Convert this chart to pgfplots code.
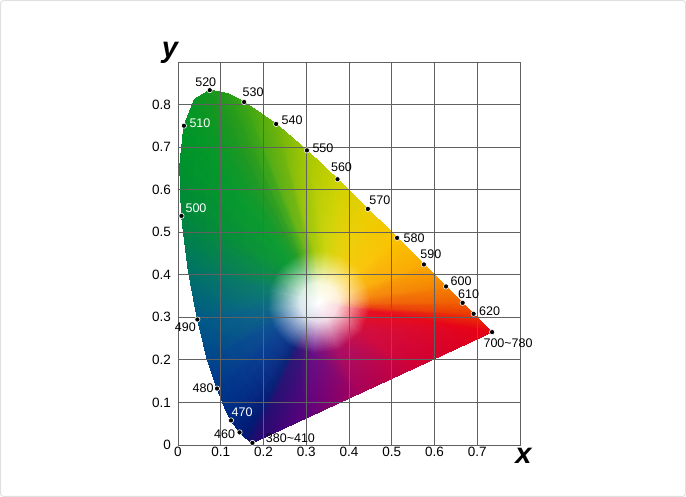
\documentclass[border=0pt]{standalone}
\usepackage{pgfplots}
\pgfplotsset{compat=1.18}
\usepackage{pgfplotstable}
\usepgfplotslibrary{patchplots}
\usepackage{fontspec}
\setmainfont{Liberation Sans}

\pgfplotstableread{
x y lab dx dy
0.0743 0.8338 520 -4 7.5
0.1547 0.8059 530 9 10
0.2296 0.7543 540 16 4
0.3016 0.6923 550 16 2
0.3731 0.6245 560 4 12
0.4441 0.5547 570 12 9
0.5125 0.4866 580 17 0
0.5752 0.4242 590 7 10
0.6270 0.3725 600 15 5
0.6658 0.3340 610 6 9
0.6915 0.3083 620 16 3
0.7347 0.2653 700\textasciitilde780 16 -11
0.0454 0.2950 490 -12 -8
0.0913 0.1327 480 -14 0
0.1440 0.0297 460 -15 -2
0.1741 0.0050 380\textasciitilde410 38 4.5
}\wlblack

\pgfplotstableread{
x y lab dx dy
0.0139 0.7502 510 16 2.5
0.0082 0.5384 500 14.5 7.5
0.1241 0.0578 470 11 8
}\wlwhite

\pgfplotsset{wlstyle/.style={only marks, mark=*, mark size=2.6pt,
  mark options={fill=black, draw=white, line width=0.6pt},
  point meta=explicit symbolic,
  visualization depends on={\thisrow{dx}\as\dx},
  visualization depends on={\thisrow{dy}\as\dy},
  nodes near coords,
  nodes near coords style={anchor=center, inner sep=0pt, xshift=\dx pt, yshift=\dy pt, text=#1, font=\fontsize{12.5}{14}\selectfont}}}

\begin{document}
\begin{tikzpicture}[x=1pt,y=1pt]
\useasboundingbox (0,0) rectangle (686,497);
\draw[black!12, line width=1pt, rounded corners=3pt] (0.5,0.5) rectangle (685.5,496.5);
\begin{axis}[
  at={(178pt,52pt)}, anchor=south west,
  scale only axis, width=342pt, height=383pt,
  xmin=0, xmax=0.8, ymin=0, ymax=0.9,
  xtick={0,0.1,0.2,0.3,0.4,0.5,0.6,0.7},
  ytick={0,0.1,0.2,0.3,0.4,0.5,0.6,0.7,0.8},
  grid=major,
  major grid style={draw=black!62, line width=0.8pt},
  axis line style={draw=black!62, line width=0.8pt},
  major tick length=0pt,
  axis on top,
  /pgf/number format/assume math mode=true,
  tick label style={font=\fontsize{13.5}{16}\selectfont, text=black},
  xticklabel style={yshift=1.5pt},
  yticklabel style={xshift=-3.5pt},
  xlabel={x}, ylabel={y},
  every axis x label/.style={at={(axis description cs:1,0)}, anchor=center, xshift=3.5pt, yshift=-10.5pt, font=\fontsize{29}{30}\selectfont\bfseries\itshape},
  every axis y label/.style={at={(axis description cs:0,1)}, anchor=center, xshift=-8pt, yshift=9pt, font=\fontsize{29}{30}\selectfont\bfseries\itshape},
]
\addplot[patch, patch type=triangle, shader=interp, mesh/color input=explicit, table/row sep=\\,
  patch table={
0 1 59\\ 0 59 58\\ 58 59 30\\ 58 30 29\\ 87 29 30\\
1 2 60\\ 1 60 59\\ 59 60 31\\ 59 31 30\\ 87 30 31\\
2 3 61\\ 2 61 60\\ 60 61 32\\ 60 32 31\\ 87 31 32\\
3 4 62\\ 3 62 61\\ 61 62 33\\ 61 33 32\\ 87 32 33\\
4 5 63\\ 4 63 62\\ 62 63 34\\ 62 34 33\\ 87 33 34\\
5 6 64\\ 5 64 63\\ 63 64 35\\ 63 35 34\\ 87 34 35\\
6 7 65\\ 6 65 64\\ 64 65 36\\ 64 36 35\\ 87 35 36\\
7 8 66\\ 7 66 65\\ 65 66 37\\ 65 37 36\\ 87 36 37\\
8 9 67\\ 8 67 66\\ 66 67 38\\ 66 38 37\\ 87 37 38\\
9 10 68\\ 9 68 67\\ 67 68 39\\ 67 39 38\\ 87 38 39\\
10 11 69\\ 10 69 68\\ 68 69 40\\ 68 40 39\\ 87 39 40\\
11 12 70\\ 11 70 69\\ 69 70 41\\ 69 41 40\\ 87 40 41\\
12 13 71\\ 12 71 70\\ 70 71 42\\ 70 42 41\\ 87 41 42\\
13 14 72\\ 13 72 71\\ 71 72 43\\ 71 43 42\\ 87 42 43\\
14 15 73\\ 14 73 72\\ 72 73 44\\ 72 44 43\\ 87 43 44\\
15 16 74\\ 15 74 73\\ 73 74 45\\ 73 45 44\\ 87 44 45\\
16 17 75\\ 16 75 74\\ 74 75 46\\ 74 46 45\\ 87 45 46\\
17 18 76\\ 17 76 75\\ 75 76 47\\ 75 47 46\\ 87 46 47\\
18 19 77\\ 18 77 76\\ 76 77 48\\ 76 48 47\\ 87 47 48\\
19 20 78\\ 19 78 77\\ 77 78 49\\ 77 49 48\\ 87 48 49\\
20 21 79\\ 20 79 78\\ 78 79 50\\ 78 50 49\\ 87 49 50\\
21 22 80\\ 21 80 79\\ 79 80 51\\ 79 51 50\\ 87 50 51\\
22 23 81\\ 22 81 80\\ 80 81 52\\ 80 52 51\\ 87 51 52\\
23 24 82\\ 23 82 81\\ 81 82 53\\ 81 53 52\\ 87 52 53\\
24 25 83\\ 24 83 82\\ 82 83 54\\ 82 54 53\\ 87 53 54\\
25 26 84\\ 25 84 83\\ 83 84 55\\ 83 55 54\\ 87 54 55\\
26 27 85\\ 26 85 84\\ 84 85 56\\ 84 56 55\\ 87 55 56\\
27 28 86\\ 27 86 85\\ 85 86 57\\ 85 57 56\\ 87 56 57\\
28 0 58\\ 28 58 86\\ 86 58 29\\ 86 29 57\\ 87 57 29\\
  }] table[meta=c] {
x y c\\
0.1741 0.0050 rgb=0.118,0.039,0.431\\
0.1566 0.0177 rgb=0,0.098,0.451\\
0.1440 0.0297 rgb=0,0.118,0.471\\
0.1241 0.0578 rgb=0,0.157,0.51\\
0.1096 0.0868 rgb=0,0.184,0.529\\
0.0913 0.1327 rgb=0,0.216,0.549\\
0.0687 0.2007 rgb=0,0.275,0.549\\
0.0454 0.2950 rgb=0,0.353,0.529\\
0.0235 0.4127 rgb=0,0.451,0.392\\
0.0082 0.5384 rgb=0,0.529,0.235\\
0.0039 0.6548 rgb=0,0.569,0.176\\
0.0139 0.7502 rgb=0,0.588,0.157\\
0.0389 0.8120 rgb=0.039,0.588,0.137\\
0.0743 0.8338 rgb=0.098,0.588,0.118\\
0.1142 0.8262 rgb=0.157,0.608,0.098\\
0.1547 0.8059 rgb=0.235,0.647,0.078\\
0.2296 0.7543 rgb=0.431,0.706,0.039\\
0.3016 0.6923 rgb=0.647,0.784,0\\
0.3731 0.6245 rgb=0.804,0.824,0\\
0.4441 0.5547 rgb=0.922,0.804,0\\
0.5125 0.4866 rgb=0.98,0.765,0\\
0.5752 0.4242 rgb=0.98,0.667,0\\
0.6270 0.3725 rgb=0.961,0.51,0\\
0.6658 0.3340 rgb=0.941,0.373,0\\
0.6915 0.3083 rgb=0.922,0.235,0\\
0.7347 0.2653 rgb=0.902,0,0.078\\
0.5500 0.1796 rgb=0.804,0,0.216\\
0.4200 0.1192 rgb=0.647,0,0.353\\
0.3000 0.0635 rgb=0.373,0,0.49\\
0.3108 0.2943 rgb=0.868,0.856,0.915\\
0.3084 0.2955 rgb=0.85,0.865,0.918\\
0.3066 0.2966 rgb=0.85,0.868,0.921\\
0.3032 0.2989 rgb=0.85,0.874,0.927\\
0.3001 0.3013 rgb=0.85,0.878,0.929\\
0.2957 0.3059 rgb=0.85,0.882,0.932\\
0.2900 0.3144 rgb=0.85,0.891,0.932\\
0.2854 0.3287 rgb=0.85,0.906,0.929\\
0.2864 0.3461 rgb=0.85,0.921,0.909\\
0.2920 0.3590 rgb=0.85,0.929,0.885\\
0.2979 0.3665 rgb=0.85,0.935,0.876\\
0.3027 0.3708 rgb=0.85,0.938,0.874\\
0.3066 0.3734 rgb=0.856,0.938,0.871\\
0.3095 0.3751 rgb=0.865,0.938,0.868\\
0.3119 0.3762 rgb=0.874,0.941,0.865\\
0.3143 0.3772 rgb=0.885,0.947,0.862\\
0.3195 0.3787 rgb=0.915,0.956,0.856\\
0.3264 0.3799 rgb=0.947,0.968,0.85\\
0.3366 0.3795 rgb=0.971,0.974,0.85\\
0.3507 0.3749 rgb=0.988,0.971,0.85\\
0.3646 0.3638 rgb=0.997,0.965,0.85\\
0.3723 0.3504 rgb=0.997,0.950,0.85\\
0.3746 0.3406 rgb=0.994,0.927,0.85\\
0.3750 0.3350 rgb=0.991,0.906,0.85\\
0.3749 0.3317 rgb=0.988,0.885,0.85\\
0.3744 0.3273 rgb=0.985,0.85,0.862\\
0.3668 0.3090 rgb=0.971,0.85,0.882\\
0.3473 0.2935 rgb=0.947,0.85,0.903\\
0.3250 0.2903 rgb=0.906,0.85,0.924\\
0.2788 0.2265 rgb=0.171,0.097,0.465\\
0.2724 0.2298 rgb=0.06,0.152,0.484\\
0.2676 0.2325 rgb=0.06,0.171,0.503\\
0.2585 0.2386 rgb=0.06,0.208,0.539\\
0.2503 0.2452 rgb=0.06,0.233,0.557\\
0.2384 0.2574 rgb=0.06,0.263,0.576\\
0.2233 0.2802 rgb=0.06,0.319,0.576\\
0.2112 0.3183 rgb=0.06,0.411,0.530\\
0.2137 0.3645 rgb=0.06,0.490,0.428\\
0.2286 0.3991 rgb=0.06,0.557,0.281\\
0.2443 0.4190 rgb=0.06,0.595,0.225\\
0.2573 0.4305 rgb=0.06,0.613,0.208\\
0.2675 0.4375 rgb=0.097,0.613,0.189\\
0.2753 0.4418 rgb=0.152,0.613,0.171\\
0.2818 0.4449 rgb=0.208,0.632,0.152\\
0.2881 0.4474 rgb=0.281,0.668,0.133\\
0.3020 0.4516 rgb=0.465,0.724,0.097\\
0.3205 0.4546 rgb=0.668,0.797,0.06\\
0.3476 0.4537 rgb=0.816,0.835,0.06\\
0.3853 0.4414 rgb=0.927,0.816,0.06\\
0.4223 0.4117 rgb=0.981,0.779,0.06\\
0.4428 0.3760 rgb=0.981,0.687,0.06\\
0.4490 0.3500 rgb=0.963,0.539,0.06\\
0.4500 0.3350 rgb=0.945,0.411,0.06\\
0.4496 0.3261 rgb=0.927,0.281,0.06\\
0.4483 0.3146 rgb=0.908,0.06,0.133\\
0.4280 0.2658 rgb=0.816,0.06,0.263\\
0.3762 0.2242 rgb=0.668,0.06,0.392\\
0.3168 0.2157 rgb=0.411,0.06,0.521\\
0.3300 0.3350 rgb=1,1,1\\
};
\addplot[wlstyle=black] table[meta=lab] {\wlblack};
\addplot[wlstyle=white] table[meta=lab] {\wlwhite};
\end{axis}
\end{tikzpicture}
\end{document}
